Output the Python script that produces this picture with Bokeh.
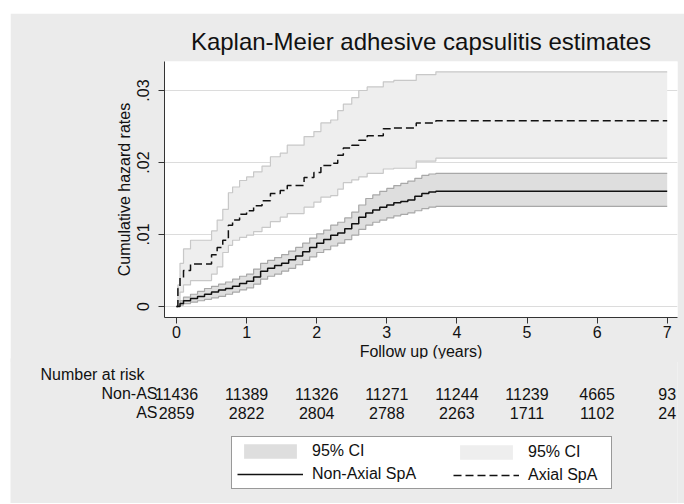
from bokeh.plotting import figure
from bokeh.core.properties import value
from bokeh.models import (Range1d, FixedTicker, Legend, LegendItem, Label,
                          LabelSet, ColumnDataSource)
from bokeh.embed import file_html
from bokeh.resources import INLINE

# ---------------- data ----------------
follow_end = 7.0

# Axial SpA (AS): jump times and step values
ax_t = [0, 0.02, 0.05, 0.1, 0.2, 0.5, 0.58, 0.66, 0.74, 0.8, 0.9, 1.0, 1.1, 1.22,
        1.34, 1.48, 1.58, 1.82, 1.96, 2.06, 2.2, 2.3, 2.38, 2.5, 2.6, 2.72, 2.95,
        3.1, 3.42, 3.7]
ax_est = [0, 0.0025, 0.004, 0.005, 0.0059, 0.0072, 0.0082, 0.0092, 0.0113, 0.0120,
          0.0128, 0.0133, 0.0140, 0.0147, 0.0157, 0.0161, 0.0168, 0.0179, 0.0186,
          0.0196, 0.0199, 0.0210, 0.0220, 0.0224, 0.0231, 0.0237, 0.0247, 0.0248,
          0.0255, 0.0258]
ax_hi = [0, 0.003, 0.006, 0.008, 0.0092, 0.0105, 0.012, 0.0135, 0.0158, 0.0166,
         0.0175, 0.018, 0.0187, 0.0195, 0.0208, 0.0213, 0.0224, 0.0236, 0.0243,
         0.0255, 0.0259, 0.0272, 0.0281, 0.029, 0.030, 0.0305, 0.0312, 0.0314,
         0.0322, 0.0326]
ax_lo = [0, 0.0008, 0.002, 0.003, 0.0036, 0.0045, 0.0055, 0.0075, 0.0085, 0.0092,
         0.0096, 0.0099, 0.0104, 0.011, 0.0118, 0.0124, 0.0129, 0.0138, 0.0145,
         0.0152, 0.0154, 0.0163, 0.0172, 0.0176, 0.018, 0.0185, 0.0191, 0.0192,
         0.0202, 0.0206]

# Non-Axial SpA (Non-AS)
na_t = [0, 0.05, 0.1, 0.2, 0.3, 0.4, 0.5, 0.6, 0.7, 0.8, 0.9, 1.0, 1.1, 1.2, 1.3,
        1.4, 1.5, 1.6, 1.7, 1.8, 1.9, 2.0, 2.1, 2.2, 2.3, 2.4, 2.5, 2.6, 2.7, 2.8,
        2.9, 3.0, 3.1, 3.2, 3.3, 3.4, 3.5, 3.6, 3.7]
na_est = [0, 0.0004, 0.0008, 0.0011, 0.0014, 0.0017, 0.0020, 0.0023, 0.0025, 0.0028,
          0.0032, 0.0035, 0.0041, 0.0049, 0.0053, 0.0057, 0.0060, 0.0065, 0.0070,
          0.0076, 0.0082, 0.0088, 0.0093, 0.0099, 0.0102, 0.0108, 0.0115, 0.0124,
          0.0130, 0.0134, 0.0138, 0.0141, 0.0144, 0.0146, 0.0148, 0.0153, 0.0157,
          0.0159, 0.0160]
na_hi = [0, 0.0008, 0.0013, 0.0017, 0.0021, 0.0025, 0.0028, 0.0031, 0.0034, 0.0038,
         0.0042, 0.0045, 0.0052, 0.0060, 0.0064, 0.0068, 0.0072, 0.0077, 0.0082,
         0.0088, 0.0095, 0.0101, 0.0106, 0.0113, 0.0117, 0.0123, 0.0131, 0.0141,
         0.0150, 0.0155, 0.0160, 0.0164, 0.0168, 0.0171, 0.0174, 0.0178, 0.0182,
         0.0184, 0.0185]
na_lo = [0, 0.0002, 0.0004, 0.0006, 0.0008, 0.0010, 0.0012, 0.0014, 0.0017, 0.0020,
         0.0023, 0.0026, 0.0031, 0.0038, 0.0042, 0.0045, 0.0049, 0.0053, 0.0058,
         0.0064, 0.0069, 0.0075, 0.0079, 0.0084, 0.0088, 0.0093, 0.0099, 0.0107,
         0.0113, 0.0117, 0.0120, 0.0123, 0.0126, 0.0128, 0.0130, 0.0133, 0.0136,
         0.0138, 0.0139]

x_ticks = [0, 1, 2, 3, 4, 5, 6, 7]
y_ticks = [0, 0.01, 0.02, 0.03]
y_tick_labels = ["0", ".01", ".02", ".03"]

risk_times = [0, 1, 2, 3, 4, 5, 6, 7]
risk_nonas = [11436, 11389, 11326, 11271, 11244, 11239, 4665, 93]
risk_as = [2859, 2822, 2804, 2788, 2263, 1711, 1102, 24]


def extend(t, v):
    return list(t) + [follow_end], list(v) + [v[-1]]


ax_x, ax_e = extend(ax_t, ax_est)
_, ax_h = extend(ax_t, ax_hi)
_, ax_l = extend(ax_t, ax_lo)
na_x, na_e = extend(na_t, na_est)
_, na_h = extend(na_t, na_hi)
_, na_l = extend(na_t, na_lo)

# ---------------- style / layout constants ----------------
FONT = "Liberation Sans"
BG = "#ebebeb"
INK = "#111111"
AX_FILL, AX_EDGE = "#eeeeee", "#c8c8c8"
NA_FILL, NA_EDGE = "#dedede", "#a8a8a8"

PX_PER_YEAR = 70.1       # horizontal scale
X0_OFFSET = 12           # pixels from frame left to x=0
LEFT1, RIGHT = 154, 7    # borders
FRAME_W = 674 - LEFT1 - RIGHT
x_start1 = -X0_OFFSET / PX_PER_YEAR
x_end = (FRAME_W - X0_OFFSET) / PX_PER_YEAR
x_start2 = -(X0_OFFSET + LEFT1) / PX_PER_YEAR


def draw_series(fig):
    """Draw bands and estimate lines; returns renderers for the legend."""
    ab = fig.varea_step(x=ax_x, y1=ax_l, y2=ax_h, step_mode="after",
                        fill_color=AX_FILL)
    fig.step(ax_x, ax_h, mode="after", line_color=AX_EDGE, line_width=1.2)
    fig.step(ax_x, ax_l, mode="after", line_color=AX_EDGE, line_width=1.2)
    nb = fig.varea_step(x=na_x, y1=na_l, y2=na_h, step_mode="after",
                        fill_color=NA_FILL)
    fig.step(na_x, na_h, mode="after", line_color=NA_EDGE, line_width=1.2)
    fig.step(na_x, na_l, mode="after", line_color=NA_EDGE, line_width=1.2)
    nl = fig.step(na_x, na_e, mode="after", line_color=INK, line_width=1.5)
    al = fig.step(ax_x, ax_e, mode="after", line_color=INK, line_width=1.5,
                  line_dash="8 4")
    return nb, nl, ab, al


# ---------------- main figure ----------------
p = figure(width=674, height=349, output_backend="svg", toolbar_location=None,
           x_range=Range1d(x_start1, x_end), y_range=Range1d(-0.001528, 0.034028),
           min_border_left=LEFT1, min_border_right=RIGHT, min_border_top=48,
           min_border_bottom=45)
p.margin = (13, 0, 0, 10)
p.border_fill_color = BG
p.background_fill_color = "white"
p.outline_line_color = None

p.title.text = "Kaplan-Meier adhesive capsulitis estimates"
p.title.align = "center"
p.title.text_font = FONT
p.title.text_font_size = "24px"
p.title.text_font_style = "normal"
p.title.text_color = INK
p.title.standoff = 14

draw_series(p)

# axes
p.xaxis.ticker = FixedTicker(ticks=x_ticks)
p.yaxis.ticker = FixedTicker(ticks=y_ticks)
p.yaxis.major_label_overrides = {float(k): v for k, v in zip(y_ticks, y_tick_labels)}
p.yaxis.major_label_orientation = "vertical"
p.xaxis.axis_label = "Follow up (years)"
p.yaxis.axis_label = "Cumulative hazard rates"
for ax in (p.xaxis, p.yaxis):
    ax.axis_line_color = "#333333"
    ax.major_tick_line_color = "#333333"
    ax.major_tick_out = 6
    ax.major_tick_in = 0
    ax.minor_tick_line_color = None
    ax.major_label_text_font = FONT
    ax.major_label_text_font_size = "16px"
    ax.major_label_text_color = INK
    ax.axis_label_text_font = FONT
    ax.axis_label_text_font_size = "16px"
    ax.axis_label_text_font_style = "normal"
    ax.axis_label_text_color = INK
p.xaxis.major_label_standoff = 2
p.xaxis.axis_label_standoff = 2
p.yaxis.major_label_standoff = 9
p.yaxis.axis_label_standoff = 2

p.xgrid.grid_line_color = None
p.ygrid.ticker = FixedTicker(ticks=y_ticks)
p.ygrid.grid_line_color = "#dcdcdc"
p.ygrid.grid_line_width = 1

# ---------------- lower panel: number at risk + legend ----------------
# y range placed far above the data so the series drawn here (only needed as
# legend sources) stay outside the visible frame
q = figure(width=674, height=145, output_backend="svg", toolbar_location=None,
           x_range=Range1d(x_start2, x_end), y_range=Range1d(1, 2),
           x_axis_location=None, y_axis_location=None,
           min_border_left=0, min_border_right=RIGHT, min_border_top=0,
           min_border_bottom=0)
q.margin = (-4, 0, 0, 10)
q.border_fill_color = BG
q.background_fill_color = BG
q.outline_line_color = None
q.grid.visible = False

nb, nl, ab, al = draw_series(q)

lbl = dict(text_font=FONT, text_font_size="16px", text_color=INK,
           text_baseline="middle")
q.add_layout(Label(x=30, y=129, x_units="screen", y_units="screen",
                   text="Number at risk", text_align="left", **lbl))
q.add_layout(Label(x=147, y=110, x_units="screen", y_units="screen",
                   text="Non-AS", text_align="right", **lbl))
q.add_layout(Label(x=147, y=91, x_units="screen", y_units="screen",
                   text="AS", text_align="right", **lbl))
risk_src = ColumnDataSource(dict(t=risk_times,
                                 nonas=[str(v) for v in risk_nonas],
                                 as_=[str(v) for v in risk_as]))
lset = dict(text_font=value(FONT), text_font_size=value("16px"),
            text_color=INK, text_baseline="middle", text_align="center")
q.add_layout(LabelSet(x="t", y=110, y_units="screen", text="nonas",
                      source=risk_src, **lset))
q.add_layout(LabelSet(x="t", y=91, y_units="screen", text="as_",
                      source=risk_src, **lset))

common = dict(orientation="vertical", glyph_width=66, glyph_height=18,
              label_height=18, label_standoff=9, spacing=5, padding=5, margin=0,
              label_text_font=FONT, label_text_font_size="16px",
              label_text_color=INK, border_line_color="#333333",
              border_line_width=1)
leg1 = Legend(items=[LegendItem(label="95% CI", renderers=[nb]),
                     LegendItem(label="Non-Axial SpA", renderers=[nl])],
              location=(221, 14), label_width=294,
              background_fill_color="white", background_fill_alpha=1.0, **common)
leg2 = Legend(items=[LegendItem(label="95% CI", renderers=[ab]),
                     LegendItem(label="Axial SpA", renderers=[al])],
              location=(438, 14), label_width=60, border_line_alpha=0.0,
              background_fill_alpha=0.0, **common)
q.add_layout(leg1, "center")
q.add_layout(leg2, "center")

open("out.html", "w").write(file_html([p, q], INLINE))
